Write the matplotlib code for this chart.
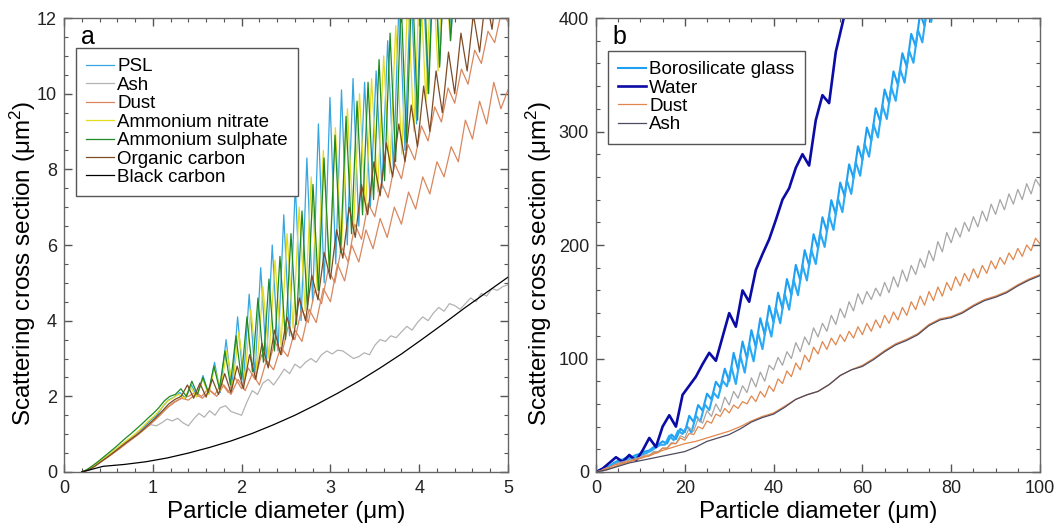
import matplotlib.pyplot as plt
import numpy as np
from matplotlib.ticker import MultipleLocator

plt.rcParams["font.family"] = ["Liberation Sans", "DejaVu Sans"]
plt.rcParams["mathtext.fontset"] = "custom"
plt.rcParams["mathtext.rm"] = "Liberation Sans"
plt.rcParams["mathtext.it"] = "Liberation Sans:italic"

# ---- panel a: diameter 0.2-5 um, each series on its own regular grid (start, step)
psl_grid = (0.2, 0.065)
psl = [0.0, 0.05, 0.14, 0.25, 0.36, 0.48, 0.6, 0.72, 0.83, 0.95, 1.08, 1.22, 1.38, 1.5,
       1.72, 1.9, 1.98, 2.1, 1.95, 2.3, 2.0, 2.55, 2.05, 2.9, 2.1, 3.5, 2.2, 4.1, 2.35,
       4.7, 2.6, 5.4, 2.9, 6.0, 3.2, 6.8, 3.6, 7.6, 4.0, 8.3, 4.5, 9.2, 5.0, 9.9, 5.5,
       10.1, 6.0, 10.4, 6.5, 10.3, 7.0, 10.6, 7.5, 11.4, 8.0, 12.6, 8.5, 13.0, 9.2, 13.5,
       10.0, 14.0, 10.8, 14.0, 11.6, 14.0, 12.4, 14.0]

ash_a_grid = (0.2, 0.06)
ash_a = [0.0, 0.05, 0.15, 0.25, 0.35, 0.45, 0.56, 0.67, 0.78, 0.88, 0.98, 1.08, 1.18,
         1.25, 1.22, 1.3, 1.4, 1.35, 1.42, 1.3, 1.22, 1.4, 1.55, 1.45, 1.62, 1.5, 1.7,
         1.75, 1.6, 1.55, 1.5, 1.85, 2.15, 2.05, 2.35, 2.45, 2.3, 2.5, 2.72, 2.6, 2.85,
         2.75, 2.9, 3.0, 2.9, 3.1, 3.2, 3.12, 3.22, 3.2, 3.1, 3.0, 3.05, 3.15, 3.1, 3.35,
         3.5, 3.45, 3.6, 3.55, 3.7, 3.85, 3.75, 3.95, 4.1, 4.0, 4.2, 4.35, 4.25, 4.45,
         4.4, 4.3, 4.45, 4.6, 4.5, 4.72, 4.65, 4.85, 4.8, 4.9, 4.95]

dust_a_grid = (0.2, 0.08)
dust_a = [0.0, 0.06, 0.18, 0.32, 0.45, 0.58, 0.72, 0.86, 1.0, 1.16, 1.32, 1.5, 1.7, 1.85,
          1.95, 1.9, 2.05, 1.95, 2.15, 2.0, 2.3, 2.05, 2.45, 2.15, 2.6, 2.3, 2.95, 2.7,
          3.3, 3.05, 3.75, 3.45, 4.3, 3.95, 4.85, 4.5, 5.5, 5.05, 6.0, 5.55, 6.4, 5.9, 6.7,
          6.2, 7.0, 6.55, 7.4, 6.95, 7.8, 7.35, 8.2, 7.8, 8.6, 8.2, 9.3, 8.8, 9.8, 9.2,
          10.3, 9.6, 10.1]

# dust with the lower-absorption refractive index
dust_a2_grid = (0.2, 0.075)
dust_a2 = [0.0, 0.06, 0.16, 0.28, 0.4, 0.53, 0.66, 0.8, 0.93, 1.07, 1.22, 1.38, 1.55, 1.72,
           1.85, 1.95, 2.0, 2.1, 2.0, 2.2, 2.05, 2.35, 2.1, 2.5, 2.2, 2.75, 2.45, 3.1, 2.8,
           3.45, 3.1, 3.85, 3.5, 4.3, 3.95, 4.8, 4.45, 5.35, 5.0, 5.95, 5.55, 6.55, 6.15,
           7.1, 6.75, 7.65, 7.25, 8.15, 7.75, 8.65, 8.25, 9.15, 8.75, 9.65, 9.25, 10.15,
           9.75, 10.65, 10.25, 11.15, 10.8, 11.65, 11.35, 12.15, 11.9]

an_grid = (0.2, 0.068)
ammonium_nitrate = [0.0, 0.06, 0.16, 0.28, 0.4, 0.52, 0.65, 0.78, 0.9, 1.03, 1.18, 1.34,
                    1.48, 1.65, 1.85, 1.95, 2.05, 1.95, 2.25, 1.98, 2.45, 2.05, 2.75, 2.15,
                    3.2, 2.25, 3.7, 2.45, 4.3, 2.7, 4.9, 3.0, 5.6, 3.35, 6.3, 3.8, 7.0,
                    4.25, 7.8, 4.8, 8.5, 5.35, 9.1, 5.9, 9.6, 6.4, 10.0, 6.9, 10.4, 7.4,
                    11.0, 7.9, 11.8, 8.4, 12.6, 9.0, 13.2, 9.8, 13.8, 10.6, 14.0, 11.4,
                    14.0, 12.3, 14.0]

as_grid = (0.2, 0.062)
ammonium_sulphate = [0.0, 0.07, 0.17, 0.28, 0.4, 0.52, 0.64, 0.77, 0.9, 1.02, 1.15, 1.28,
                     1.42, 1.55, 1.7, 1.88, 2.0, 2.05, 2.2, 2.0, 2.4, 2.05, 2.5, 2.1, 2.8,
                     2.2, 3.2, 2.3, 3.6, 2.45, 4.1, 2.65, 4.6, 2.9, 5.1, 3.2, 5.7, 3.5,
                     6.3, 3.9, 6.9, 4.3, 7.6, 4.8, 8.3, 5.3, 8.9, 5.8, 9.4, 6.3, 9.8, 6.8,
                     10.3, 7.2, 10.9, 7.7, 11.6, 8.2, 12.5, 8.7, 13.2, 9.3, 13.8, 10.0,
                     14.0, 10.7, 14.0, 11.4, 14.0, 12.2, 14.0]

oc_grid = (0.2, 0.07)
organic_carbon = [0.0, 0.05, 0.14, 0.26, 0.38, 0.5, 0.63, 0.76, 0.88, 1.0, 1.14, 1.3, 1.45,
                  1.62, 1.8, 1.92, 2.0, 2.3, 1.95, 2.35, 1.98, 2.45, 2.05, 2.6, 2.1, 2.8,
                  2.2, 3.1, 2.45, 3.4, 2.75, 3.75, 3.1, 4.1, 3.5, 4.6, 4.0, 5.2, 4.55,
                  5.8, 5.1, 6.4, 5.65, 7.0, 6.2, 7.6, 6.8, 8.2, 7.3, 8.7, 7.8, 9.2, 8.2,
                  9.7, 8.6, 10.2, 9.0, 10.6, 9.5, 11.1, 10.0, 11.6, 10.6, 12.1, 11.1,
                  12.6, 11.7, 13.1, 12.4, 14.0]

bc_grid = (0.2, 0.24)
black_carbon = [0.0, 0.15, 0.2, 0.27, 0.37, 0.5, 0.65, 0.82, 1.02, 1.25, 1.5, 1.78, 2.08,
                2.4, 2.75, 3.12, 3.52, 3.93, 4.35, 4.75, 5.15]

# ---- panel b: diameter 0-100 um
water_grid = (0.0, 1.5)
water = [0, 3, 8, 13, 9, 15, 10, 19, 30, 22, 40, 50, 40, 68, 76, 84, 95, 105, 98, 119,
         140, 128, 160, 150, 178, 192, 205, 222, 240, 250, 268, 280, 270, 310, 332, 325,
         370, 395, 420]

# borosilicate glass, two strands offset by half a micron
glass_upper_grid = (0.0, 1.0)
glass_upper = [0, 2, 4, 5, 8, 10, 11, 13, 13, 15, 16, 18, 19, 22, 24, 27, 25, 33, 29, 38,
               35, 49.5, 44, 59, 54, 69, 64, 79.5, 74, 91, 80, 105, 90, 115, 100, 125, 110,
               135.5, 121, 146.5, 132, 158, 144, 170, 156, 182.5, 169, 195.5, 182, 209.5,
               197, 224.5, 212, 239.5, 227, 255, 243, 271, 259, 287, 275, 303.5, 292,
               320.5, 309, 337, 325, 353, 341, 369, 357, 386, 375, 404, 393, 422, 411,
               440, 429, 458]
glass_lower_grid = (0.5, 1.0)
glass_lower = [0, 1.5, 3.5, 6, 8, 9.5, 10.5, 11.5, 12.5, 14, 15.5, 17, 19, 21.5, 24, 24,
               32, 28, 36.5, 33.5, 40.25, 34.75, 49.5, 44.5, 59.5, 54.5, 69.75, 65.25,
               80.5, 75.5, 92.5, 77.5, 102.5, 87.5, 112.5, 97.5, 122.75, 108.25, 133.75,
               119.25, 145, 131, 157, 143, 169.25, 155.75, 182.25, 168.75, 195.75, 183.25,
               210.75, 198.25, 225.75, 213.25, 241, 229, 257, 245, 273, 261, 289.25,
               277.75, 306.25, 294.75, 323, 311, 339, 327, 355, 343, 371.5, 360.5, 389.5,
               378.5, 407.5, 396.5, 425.5, 414.5, 445]

ripple_grid = (0.0, 1.0)
ash_b_ripple = [0, 1, 3, 4, 6, 8, 9, 10, 11, 12, 13, 15, 15, 18, 18, 21, 21, 26, 25, 32,
                30, 39, 36, 47, 43, 54, 49, 60, 53, 66, 59, 71, 65, 76, 70, 83, 75, 88, 80,
                94, 90, 101, 94, 106, 100, 114, 106, 119, 112, 127, 119, 131, 124, 138,
                130, 144, 136, 150, 142, 157, 148, 159, 152, 162, 155, 167, 158, 172, 163,
                178, 168, 182, 174, 188, 180, 195, 186, 203, 194, 211, 202, 215, 207, 220,
                212, 225, 216, 230, 221, 236, 227, 240, 231, 245, 236, 249, 240, 254, 245,
                258, 252]
dust_b_ripple = [0, 1, 3, 4, 6, 7, 8, 9, 10, 11, 12, 14, 14, 17, 17, 21, 21, 25, 25, 30,
                 28, 34, 33, 40, 38, 45, 43, 51, 49, 56, 52, 59, 56, 62, 60, 67, 62, 71,
                 66, 76, 71, 82, 78, 89, 84, 96, 90, 103, 97, 110, 104, 115, 108, 118, 112,
                 121, 115, 124, 118, 128, 121, 131, 124, 134, 127, 138, 131, 141, 134, 145,
                 138, 150, 143, 155, 147, 159, 151, 163, 155, 167, 160, 172, 164, 175, 168,
                 179, 171, 182, 175, 186, 179, 189, 183, 193, 187, 197, 190, 200, 195, 206,
                 201]

smooth_grid = (0.0, 2.5)
ash_b_smooth = [0, 2, 5, 8, 10, 12, 14, 16, 18, 22, 27, 30, 33, 38, 44, 48, 51, 57, 64, 68,
                71, 77, 85, 90, 93, 99, 106, 112, 116, 121, 129, 134, 136, 140, 146, 151,
                154, 158, 164, 169, 173]
dust_b_smooth = [0, 2, 6, 9, 12, 15, 19, 22, 25, 27, 30, 33, 36, 40, 45, 49, 52, 58, 64,
                 68, 71, 77, 85, 90, 94, 100, 107, 113, 117, 122, 130, 135, 137, 141, 147,
                 152, 155, 159, 165, 170, 174]


def diameters(grid, values):
    start, step = grid
    return start + step * np.arange(len(values))


def style_axes(ax, xmax, ymax, xmajor, xminor, ymajor, yminor, ylabel_x):
    ax.set_xlim(0, xmax)
    ax.set_ylim(0, ymax)
    ax.xaxis.set_major_locator(MultipleLocator(xmajor))
    ax.xaxis.set_minor_locator(MultipleLocator(xminor))
    ax.yaxis.set_major_locator(MultipleLocator(ymajor))
    ax.yaxis.set_minor_locator(MultipleLocator(yminor))
    ax.tick_params(which="both", direction="in", top=True, right=True,
                   colors="#555555", labelcolor="#222222", labelsize=13)
    ax.tick_params(which="major", length=6, width=1)
    ax.tick_params(which="minor", length=3, width=0.8)
    ax.tick_params(axis="x", which="major", pad=6)
    ax.tick_params(axis="y", which="major", pad=5)
    for spine in ax.spines.values():
        spine.set_color("#666666")
        spine.set_linewidth(1.0)
    ax.set_xlabel("Particle diameter (μm)", fontsize=17.5)
    ax.set_ylabel("Scattering cross section (μm$^2$)", fontsize=17.5)
    ax.xaxis.set_label_coords(0.5, -0.064)
    ax.yaxis.set_label_coords(ylabel_x, 0.46)


def add_legend(ax, anchor):
    leg = ax.legend(loc="upper left", bbox_to_anchor=anchor, borderaxespad=0,
                    fontsize=13.5, handlelength=1.5, handletextpad=0.15,
                    labelspacing=0.07, borderpad=0.55, fancybox=False, framealpha=1,
                    edgecolor="#555555")
    leg.get_frame().set_linewidth(1.0)
    return leg


fig = plt.figure(figsize=(10.56, 5.25), dpi=100)
ax_a = fig.add_axes([64 / 1056, 53 / 525, 444 / 1056, 454 / 525])
ax_b = fig.add_axes([596 / 1056, 53 / 525, 444 / 1056, 454 / 525])

# panel a
lw = 0.9
ax_a.plot(diameters(psl_grid, psl), psl, color="#35a6e0", lw=lw, label="PSL")
ax_a.plot(diameters(ash_a_grid, ash_a), ash_a, color="#b3b3b3", lw=lw, label="Ash")
ax_a.plot(diameters(dust_a_grid, dust_a), dust_a, color="#d9875e", lw=lw, label="Dust")
ax_a.plot(diameters(dust_a2_grid, dust_a2), dust_a2, color="#d9875e", lw=lw)
ax_a.plot(diameters(an_grid, ammonium_nitrate), ammonium_nitrate, color="#e2dc1e", lw=lw,
          label="Ammonium nitrate")
ax_a.plot(diameters(as_grid, ammonium_sulphate), ammonium_sulphate, color="#1f8a24", lw=lw,
          label="Ammonium sulphate")
ax_a.plot(diameters(oc_grid, organic_carbon), organic_carbon, color="#7d4c26", lw=lw,
          label="Organic carbon")
ax_a.plot(diameters(bc_grid, black_carbon), black_carbon, color="black", lw=lw,
          label="Black carbon")
style_axes(ax_a, 5, 12, 1, 0.2, 2, 0.5, -0.058)
ax_a.text(0.038, 0.985, "a", transform=ax_a.transAxes, fontsize=18, va="top")
add_legend(ax_a, (0.027, 0.934))

# panel b
ax_b.plot(diameters(glass_upper_grid, glass_upper), glass_upper, color="#1ea0f2", lw=1.5,
          label="Borosilicate glass")
ax_b.plot(diameters(glass_lower_grid, glass_lower), glass_lower, color="#2aaaf5", lw=1.5)
ax_b.plot(diameters(water_grid, water), water, color="#0b0ba6", lw=1.9, label="Water")
ax_b.plot(diameters(ripple_grid, ash_b_ripple), ash_b_ripple, color="#a6a6a6", lw=0.9)
ax_b.plot(diameters(ripple_grid, dust_b_ripple), dust_b_ripple, color="#e0874e", lw=0.9,
          label="Dust")
ax_b.plot(diameters(smooth_grid, dust_b_smooth), dust_b_smooth, color="#e0874e", lw=0.9)
ax_b.plot(diameters(smooth_grid, ash_b_smooth), ash_b_smooth, color="#4f4a5e", lw=0.9,
          label="Ash")
style_axes(ax_b, 100, 400, 20, 5, 100, 20, -0.095)
ax_b.text(0.038, 0.985, "b", transform=ax_b.transAxes, fontsize=18, va="top")
add_legend(ax_b, (0.027, 0.928))

fig.savefig("out.png", dpi=100)
